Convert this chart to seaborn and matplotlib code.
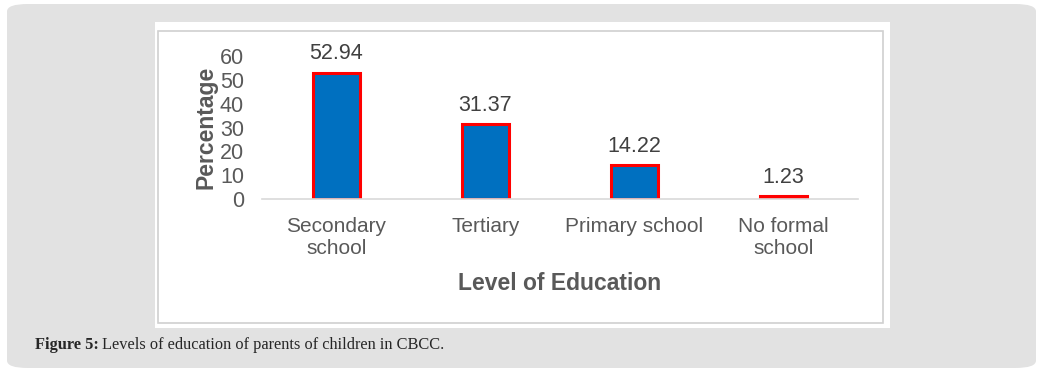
import pandas as pd
import matplotlib.pyplot as plt
import seaborn as sns
from matplotlib.patches import FancyBboxPatch, Rectangle

# data
levels = ["Secondary\nschool", "Tertiary", "Primary school", "No formal\nschool"]
percentages = [52.94, 31.37, 14.22, 1.23]
y_ticks = [0, 10, 20, 30, 40, 50, 60]

df = pd.DataFrame({"Level": levels, "Percentage": percentages})

sns.set_style("white")
plt.rcParams["font.family"] = ["Liberation Sans", "DejaVu Sans"]

fig = plt.figure(figsize=(10.43, 3.72), dpi=100)
W, H = 1043, 372

# page background: grey rounded panel, white picture, thin grey frame
fig.patches.append(FancyBboxPatch((7 / W, 4 / H), 1029 / W, 364 / H,
                                  boxstyle="round,pad=0,rounding_size=0.02",
                                  transform=fig.transFigure, facecolor="#e2e2e2",
                                  edgecolor="none", zorder=-3))
fig.patches.append(Rectangle((155 / W, 1 - 328 / H), 735 / W, 306 / H,
                             transform=fig.transFigure, facecolor="white",
                             edgecolor="none", zorder=-2))
fig.patches.append(Rectangle((158 / W, 1 - 323 / H), 725 / W, 292 / H,
                             transform=fig.transFigure, facecolor="none",
                             edgecolor="#d0d0d0", linewidth=1.2, zorder=-1))

ax = fig.add_axes([262 / W, 1 - 199 / H, 596 / W, 143 / H])
ax.set_facecolor("none")

sns.barplot(data=df, x="Level", y="Percentage", color="#0070C0",
            edgecolor="#ff0000", linewidth=2.2, width=0.32, saturation=1, ax=ax)
ax.bar_label(ax.containers[0], labels=[f"{v:.2f}" for v in percentages],
             padding=6, fontsize=15.5, color="#404040")

ax.set_ylim(0, 60)
ax.set_yticks(y_ticks)
ax.set_xlim(-0.5, 3.5)
ax.tick_params(axis="y", labelsize=15.5, labelcolor="#595959", length=0, pad=13)
ax.tick_params(axis="x", labelsize=15, labelcolor="#595959", length=0, pad=13)
for lbl in ax.get_xticklabels():
    lbl.set_linespacing(1.2)
for s in ["top", "right", "left"]:
    ax.spines[s].set_visible(False)
ax.spines["bottom"].set_color("#d9d9d9")
ax.spines["bottom"].set_linewidth(1.2)

ax.set_ylabel("Percentage", fontsize=16.5, fontweight="bold", color="#595959", labelpad=2)
ax.set_xlabel("Level of Education", fontsize=16.5, fontweight="bold", color="#595959", labelpad=10)

fig.text(35 / W, 1 - 345 / H, "Figure 5:", fontsize=11.8, fontweight="bold",
         family=["Liberation Serif", "DejaVu Serif"], va="center")
fig.text(102 / W, 1 - 345 / H, "Levels of education of parents of children in CBCC.",
         fontsize=11.8, family=["Liberation Serif", "DejaVu Serif"], va="center")

fig.savefig("out.png", dpi=100)
